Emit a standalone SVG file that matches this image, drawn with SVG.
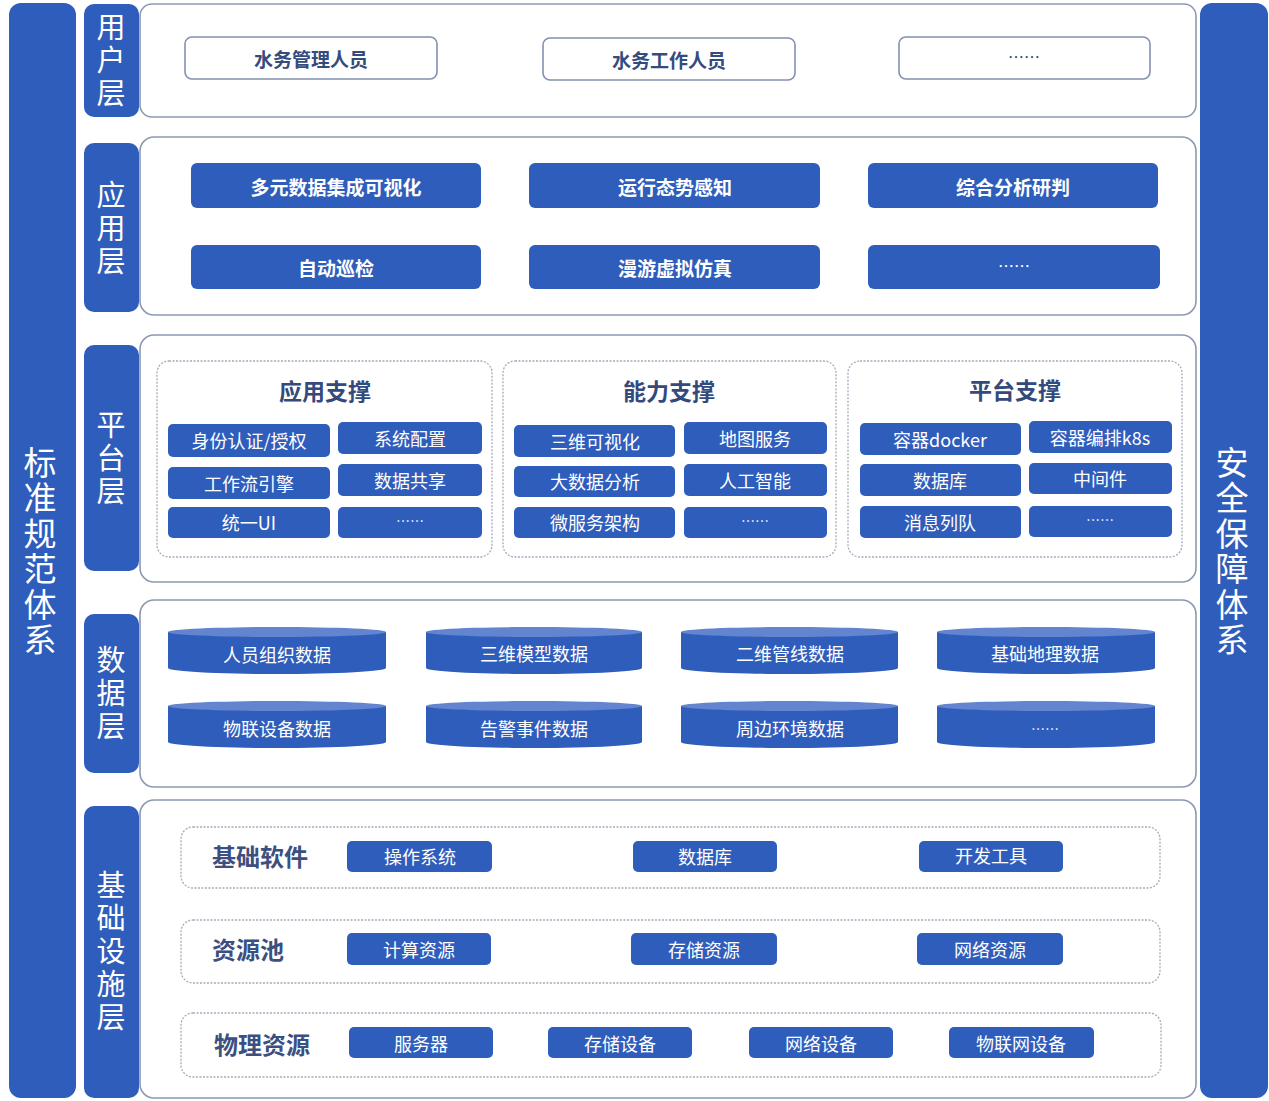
<svg xmlns="http://www.w3.org/2000/svg" width="1269" height="1101" viewBox="0 0 1269 1101">
<style>
text{font-family:"Noto Sans CJK SC","Noto Sans",sans-serif;dominant-baseline:central;text-anchor:middle}
.bar{fill:#2f5dbb}
.tab{fill:#2f5dbb}
.vt{writing-mode:vertical-rl;text-orientation:upright;dominant-baseline:central;text-anchor:middle}
.tabt{fill:#fff;font-size:29px;letter-spacing:4px}
.bart{fill:#fff;font-size:33px;letter-spacing:2.5px}
.panel{fill:#fff;stroke:#8c99b3;stroke-width:1.6}
.sub{fill:none;stroke:#a3abbb;stroke-width:1.3;stroke-dasharray:2 1.5}
.btn{fill:#2f5dbb}
.wbtn{fill:#fff;stroke:#8291af;stroke-width:1.6}
.ut{fill:#344b7e;font-size:19px;font-weight:bold}
.at{fill:#fff;font-size:19px;font-weight:bold}
.ttl{fill:#34497c;font-size:23px;font-weight:bold}
.it{fill:#fff;font-size:18px}
.lab{fill:#3b4f80;font-size:24px;font-weight:bold;text-anchor:start}
.cyl{fill:#2f5dbb}
.cylt{fill:#6384cf}
</style>
<g id="left-bar">
<rect class="bar" x="9" y="3" width="67" height="1095" rx="12"/>
<text class="bart vt" x="40" y="552">标准规范体系</text>
</g>
<g id="right-bar">
<rect class="bar" x="1200" y="3" width="68" height="1095" rx="12"/>
<text class="bart vt" x="1232" y="552">安全保障体系</text>
</g>

<g id="user-layer">
<rect class="panel" x="140" y="4" width="1056" height="113" rx="12"/>
<rect class="tab" x="84" y="4" width="55" height="113" rx="10"/>
<text class="tabt vt" x="111" y="62">用户层</text>
<g id="u1"><rect class="wbtn" x="185" y="37" width="252" height="42" rx="7"/><text class="ut" x="311" y="58">水务管理人员</text></g>
<g id="u2"><rect class="wbtn" x="543" y="38" width="252" height="42" rx="7"/><text class="ut" x="669" y="59">水务工作人员</text></g>
<g id="u3"><rect class="wbtn" x="899" y="37" width="251" height="42" rx="7"/><text class="ut" x="1024" y="56" style="font-weight:normal;font-size:16px">……</text></g>
</g>

<g id="app-layer">
<rect class="panel" x="140" y="137" width="1056" height="178" rx="14"/>
<rect class="tab" x="84" y="143" width="55" height="169" rx="10"/>
<text class="tabt vt" x="111" y="230">应用层</text>
<g id="a1"><rect class="btn" x="191" y="163" width="290" height="45" rx="6"/><text class="at" x="336" y="186">多元数据集成可视化</text></g>
<g id="a2"><rect class="btn" x="529" y="163" width="291" height="45" rx="6"/><text class="at" x="675" y="186">运行态势感知</text></g>
<g id="a3"><rect class="btn" x="868" y="163" width="290" height="45" rx="6"/><text class="at" x="1013" y="186">综合分析研判</text></g>
<g id="a4"><rect class="btn" x="191" y="245" width="290" height="44" rx="6"/><text class="at" x="336" y="267">自动巡检</text></g>
<g id="a5"><rect class="btn" x="529" y="245" width="291" height="44" rx="6"/><text class="at" x="675" y="267">漫游虚拟仿真</text></g>
<g id="a6"><rect class="btn" x="868" y="245" width="292" height="44" rx="6"/><text class="at" x="1014" y="265" style="font-weight:normal;font-size:16px">……</text></g>
</g>

<g id="platform-layer">
<rect class="panel" x="140" y="335" width="1056" height="247" rx="14"/>
<rect class="tab" x="84" y="345" width="55" height="226" rx="10"/>
<text class="tabt vt" x="111" y="460">平台层</text>
<g id="app-support">
<rect class="sub" x="157" y="361" width="335" height="196" rx="12"/>
<text class="ttl" x="325" y="390">应用支撑</text>
<rect class="btn" x="168" y="424" width="162" height="33" rx="5"/><text class="it" x="249" y="440">身份认证/授权</text>
<rect class="btn" x="338" y="422" width="144" height="32" rx="5"/><text class="it" x="410" y="438">系统配置</text>
<rect class="btn" x="168" y="467" width="162" height="32" rx="5"/><text class="it" x="249" y="483">工作流引擎</text>
<rect class="btn" x="338" y="464" width="144" height="32" rx="5"/><text class="it" x="410" y="480">数据共享</text>
<rect class="btn" x="168" y="507" width="162" height="31" rx="5"/><text class="it" x="249" y="522">统一UI</text>
<rect class="btn" x="338" y="507" width="144" height="31" rx="5"/><text class="it" x="410" y="520" style="font-size:14px">……</text>
</g>
<g id="ability-support">
<rect class="sub" x="503" y="361" width="333" height="196" rx="12"/>
<text class="ttl" x="669" y="390">能力支撑</text>
<rect class="btn" x="514" y="425" width="161" height="32" rx="5"/><text class="it" x="595" y="441">三维可视化</text>
<rect class="btn" x="684" y="422" width="143" height="32" rx="5"/><text class="it" x="755" y="438">地图服务</text>
<rect class="btn" x="514" y="466" width="161" height="31" rx="5"/><text class="it" x="595" y="481">大数据分析</text>
<rect class="btn" x="684" y="464" width="143" height="32" rx="5"/><text class="it" x="755" y="480">人工智能</text>
<rect class="btn" x="514" y="507" width="161" height="31" rx="5"/><text class="it" x="595" y="522">微服务架构</text>
<rect class="btn" x="684" y="507" width="143" height="31" rx="5"/><text class="it" x="755" y="520" style="font-size:14px">……</text>
</g>
<g id="platform-support">
<rect class="sub" x="848" y="361" width="334" height="196" rx="12"/>
<text class="ttl" x="1015" y="389">平台支撑</text>
<rect class="btn" x="860" y="423" width="161" height="32" rx="5"/><text class="it" x="940" y="439">容器docker</text>
<rect class="btn" x="1029" y="421" width="143" height="32" rx="5"/><text class="it" x="1100" y="437">容器编排k8s</text>
<rect class="btn" x="860" y="464" width="161" height="32" rx="5"/><text class="it" x="940" y="480">数据库</text>
<rect class="btn" x="1029" y="463" width="143" height="31" rx="5"/><text class="it" x="1100" y="478">中间件</text>
<rect class="btn" x="860" y="506" width="161" height="32" rx="5"/><text class="it" x="940" y="522">消息列队</text>
<rect class="btn" x="1029" y="506" width="143" height="31" rx="5"/><text class="it" x="1100" y="519" style="font-size:14px">……</text>
</g>
</g>

<g id="data-layer">
<rect class="panel" x="140" y="600" width="1056" height="187" rx="14"/>
<rect class="tab" x="84" y="614" width="55" height="159" rx="10"/>
<text class="tabt vt" x="111" y="695">数据层</text>
<g id="d1"><path class="cyl" d="M168,632 L168,668 A109,6 0 0 0 386,668 L386,632 Z"/><ellipse class="cylt" cx="277" cy="632" rx="109" ry="5"/><text class="it" x="277" y="654">人员组织数据</text></g>
<g id="d2"><path class="cyl" d="M426,632 L426,668 A108,6 0 0 0 642,668 L642,632 Z"/><ellipse class="cylt" cx="534" cy="632" rx="108" ry="5"/><text class="it" x="534" y="653">三维模型数据</text></g>
<g id="d3"><path class="cyl" d="M681,632 L681,668 A108.5,6 0 0 0 898,668 L898,632 Z"/><ellipse class="cylt" cx="789.5" cy="632" rx="108.5" ry="5"/><text class="it" x="790" y="653">二维管线数据</text></g>
<g id="d4"><path class="cyl" d="M937,632 L937,668 A109,6 0 0 0 1155,668 L1155,632 Z"/><ellipse class="cylt" cx="1046" cy="632" rx="109" ry="5"/><text class="it" x="1045" y="653">基础地理数据</text></g>
<g id="d5"><path class="cyl" d="M168,706 L168,742 A109,6 0 0 0 386,742 L386,706 Z"/><ellipse class="cylt" cx="277" cy="706" rx="109" ry="5"/><text class="it" x="277" y="728">物联设备数据</text></g>
<g id="d6"><path class="cyl" d="M426,706 L426,742 A108,6 0 0 0 642,742 L642,706 Z"/><ellipse class="cylt" cx="534" cy="706" rx="108" ry="5"/><text class="it" x="534" y="728">告警事件数据</text></g>
<g id="d7"><path class="cyl" d="M681,706 L681,742 A108.5,6 0 0 0 898,742 L898,706 Z"/><ellipse class="cylt" cx="789.5" cy="706" rx="108.5" ry="5"/><text class="it" x="790" y="728">周边环境数据</text></g>
<g id="d8"><path class="cyl" d="M937,706 L937,742 A109,6 0 0 0 1155,742 L1155,706 Z"/><ellipse class="cylt" cx="1046" cy="706" rx="109" ry="5"/><text class="it" x="1045" y="728" style="font-size:14px">……</text></g>
</g>

<g id="infra-layer">
<rect class="panel" x="140" y="800" width="1056" height="298" rx="14"/>
<rect class="tab" x="84" y="806" width="55" height="292" rx="10"/>
<text class="tabt vt" x="111" y="953">基础设施层</text>
<g id="basic-software">
<rect class="sub" x="181" y="827" width="979" height="61" rx="12"/>
<text class="lab" x="212" y="855">基础软件</text>
<rect class="btn" x="347" y="841" width="145" height="31" rx="5"/><text class="it" x="420" y="856">操作系统</text>
<rect class="btn" x="633" y="841" width="144" height="31" rx="5"/><text class="it" x="705" y="856">数据库</text>
<rect class="btn" x="919" y="841" width="144" height="31" rx="5"/><text class="it" x="991" y="855">开发工具</text>
</g>
<g id="resource-pool">
<rect class="sub" x="181" y="920" width="979" height="63" rx="12"/>
<text class="lab" x="212" y="948">资源池</text>
<rect class="btn" x="347" y="933" width="144" height="32" rx="5"/><text class="it" x="419" y="949">计算资源</text>
<rect class="btn" x="631" y="933" width="146" height="32" rx="5"/><text class="it" x="704" y="949">存储资源</text>
<rect class="btn" x="917" y="933" width="146" height="32" rx="5"/><text class="it" x="990" y="949">网络资源</text>
</g>
<g id="physical-resource">
<rect class="sub" x="181" y="1013" width="980" height="64" rx="12"/>
<text class="lab" x="214" y="1043">物理资源</text>
<rect class="btn" x="349" y="1027" width="144" height="31" rx="5"/><text class="it" x="421" y="1043">服务器</text>
<rect class="btn" x="548" y="1027" width="144" height="31" rx="5"/><text class="it" x="620" y="1043">存储设备</text>
<rect class="btn" x="749" y="1027" width="144" height="31" rx="5"/><text class="it" x="821" y="1043">网络设备</text>
<rect class="btn" x="949" y="1027" width="145" height="31" rx="5"/><text class="it" x="1021" y="1043">物联网设备</text>
</g>
</g>
<g id="connectors"></g>
</svg>
